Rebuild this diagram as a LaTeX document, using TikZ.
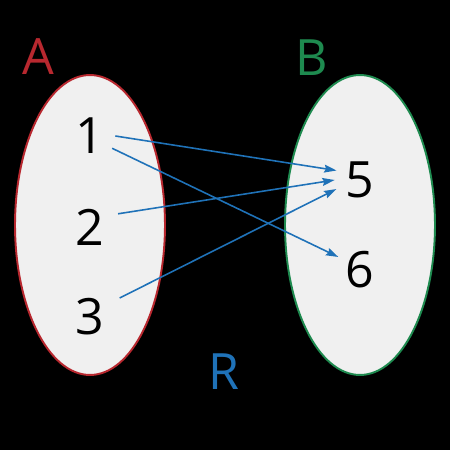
\documentclass[tikz,border=0pt]{standalone}
\usepackage{fontspec}
\setmainfont{Open Sans}
\usetikzlibrary{arrows.meta, shapes.geometric}
\definecolor{setred}{HTML}{B8282F}
\definecolor{setgreen}{HTML}{1E8A4F}
\definecolor{relblue}{HTML}{1F72B8}
\definecolor{setfill}{HTML}{F0F0F0}
\tikzset{
  setshape/.style={ellipse, fill=setfill, line width=1.1pt, minimum width=3cm, minimum height=6cm},
  elem/.style={circle, minimum size=1cm, inner sep=0pt, font=\fontsize{28.5}{34}\selectfont},
  title/.style={inner sep=0pt, font=\fontsize{28.5}{34}\selectfont},
  rel/.style={relblue, line width=0.9pt, -{Stealth[length=7pt, width=4.5pt, inset=1pt]}},
}

\begin{document}
\begin{tikzpicture}[x=0.02cm, y=-0.02cm]
  \fill[black] (0,0) rectangle (450,450);
  \useasboundingbox (0,0) rectangle (450,450);
  % sets
  \node[setshape, draw=setred] (setA) at (90,225) {};
  \node[setshape, draw=setgreen] (setB) at (360,225) {};
  \node[title, text=setred] (labA) at (38,57) {A};
  \node[title, text=setgreen] (labB) at (312,58) {B};
  \node[title, text=relblue] (labR) at (224,372) {R};
  % elements
  \node[elem] (n1) at (90,136) {1};
  \node[elem] (n2) at (90,227) {2};
  \node[elem] (n3) at (90,317) {3};
  \node[elem] (n5) at (360,180) {5};
  \node[elem] (n6) at (360,270) {6};
  % relation
  \draw[rel] (n1.0) -- (n5.158);
  \draw[rel] (n1.-29) -- (n6.149);
  \draw[rel, shorten <=3.4pt] (n2.29) -- (n5.180);
  \draw[rel, shorten <=5.7pt] (n3.35) -- (n5.201);
\end{tikzpicture}
\end{document}
